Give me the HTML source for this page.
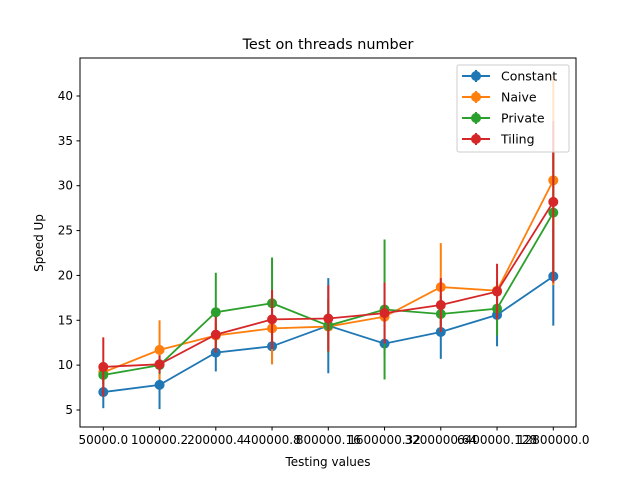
<!DOCTYPE html>
<html><head><meta charset="utf-8"><style>
body{margin:0;background:#fff;}
svg text{font-family:"DejaVu Sans","Liberation Sans",sans-serif;}
</style></head><body>
<svg id="chart" width="640" height="480">
<rect width="640" height="480" fill="#fff"/>
<text x="328" y="49" text-anchor="middle" font-size="14.4">Test on threads number</text>
<g id="plot"></g>
</svg>
<script>
const categories = ["50000.0","100000.2","200000.4","400000.8","800000.16","1600000.32","3200000.64","6400000.128","12800000.0"];
const yTicks = [5,10,15,20,25,30,35,40];
const seriesNames = ["Constant","Naive","Private","Tiling"];
const colors = ["#1f77b4","#ff7f0e","#2ca02c","#d62728"];
const constantVals = [7.0,7.8,11.4,12.1,14.4,12.4,13.7,15.6,19.9];
const constantErr = [1.8,2.7,2.1,2.0,5.3,1.5,3.0,3.5,5.5];
const naiveVals = [9.2,11.7,13.3,14.1,14.3,15.4,18.7,18.3,30.6];
const naiveErr = [1.0,3.3,1.5,4.0,1.0,1.5,4.9,1.0,11.7];
const privateVals = [8.9,10.0,15.9,16.9,14.4,16.2,15.7,16.3,27.0];
const privateErr = [1.0,1.0,4.4,5.1,3.0,7.8,2.0,3.0,7.0];
const tilingVals = [9.8,10.1,13.4,15.1,15.2,15.8,16.7,18.2,28.2];
const tilingErr = [3.3,1.0,2.0,3.3,3.7,3.4,3.0,3.1,9.0];
const vals=[constantVals,naiveVals,privateVals,tilingVals];
const errs=[constantErr,naiveErr,privateErr,tilingErr];
const NS="http://www.w3.org/2000/svg";
const L=80,R=576,T=58,B=427;
const x=i=>103.3+i*(553.3-103.3)/(categories.length-1);
const y=v=>410-(v-5)*(410-96)/35;
const g=document.getElementById('plot');
function mk(t,a,p){const e=document.createElementNS(NS,t);for(const k in a)e.setAttribute(k,a[k]);(p||g).appendChild(e);return e;}
const frame=mk('rect',{x:L,y:T,width:R-L,height:B-T,fill:'none',stroke:'#000','stroke-width':1});


categories.forEach((c,i)=>{
  mk('line',{x1:x(i),x2:x(i),y1:B,y2:B+3.5,stroke:'#000'});
  const t=mk('text',{x:x(i),y:B+17,'text-anchor':'middle','font-size':12});t.textContent=c;
  
  
});
yTicks.forEach(v=>{
  mk('line',{x1:L-3.5,x2:L,y1:y(v),y2:y(v),stroke:'#000'});
  const t=mk('text',{x:L-7,y:y(v)+4,'text-anchor':'end','font-size':12});t.textContent=v;
  
  
});
const xt=mk('text',{x:328,y:466,'text-anchor':'middle','font-size':12});xt.textContent='Testing values';


const yt=mk('text',{x:0,y:0,'text-anchor':'middle','font-size':12,transform:'translate(43,243) rotate(-90)'});yt.textContent='Speed Up';


vals.forEach((s,k)=>{
  const sg=mk('g',{});
  
  
  s.forEach((v,i)=>{
    mk('line',{x1:x(i),x2:x(i),y1:y(v-errs[k][i]),y2:y(v+errs[k][i]),stroke:colors[k],'stroke-width':2},sg);
  });
  mk('polyline',{points:s.map((v,i)=>x(i)+','+y(v)).join(' '),fill:'none',stroke:colors[k],'stroke-width':1.8},sg);
  s.forEach((v,i)=>{
    const c=mk('circle',{cx:x(i),cy:y(v),r:5,fill:colors[k]},sg);
    
    
  });
});
const lg=mk('g',{});


mk('rect',{x:457,y:65,width:112,height:87,rx:2,fill:'#fff','fill-opacity':0.8,stroke:'#ccc'},lg);
seriesNames.forEach((n,k)=>{
  const yy=76+k*21;
  const e=mk('g',{},lg);
  
  
  mk('line',{x1:462,x2:490,y1:yy,y2:yy,stroke:colors[k],'stroke-width':2},e);
  mk('line',{x1:476,x2:476,y1:yy-6,y2:yy+6,stroke:colors[k],'stroke-width':2},e);
  mk('circle',{cx:476,cy:yy,r:5,fill:colors[k]},e);
  const t=mk('text',{x:501,y:yy+4.5,'font-size':12.5},e);t.textContent=n;
});
</script>
</body></html>
